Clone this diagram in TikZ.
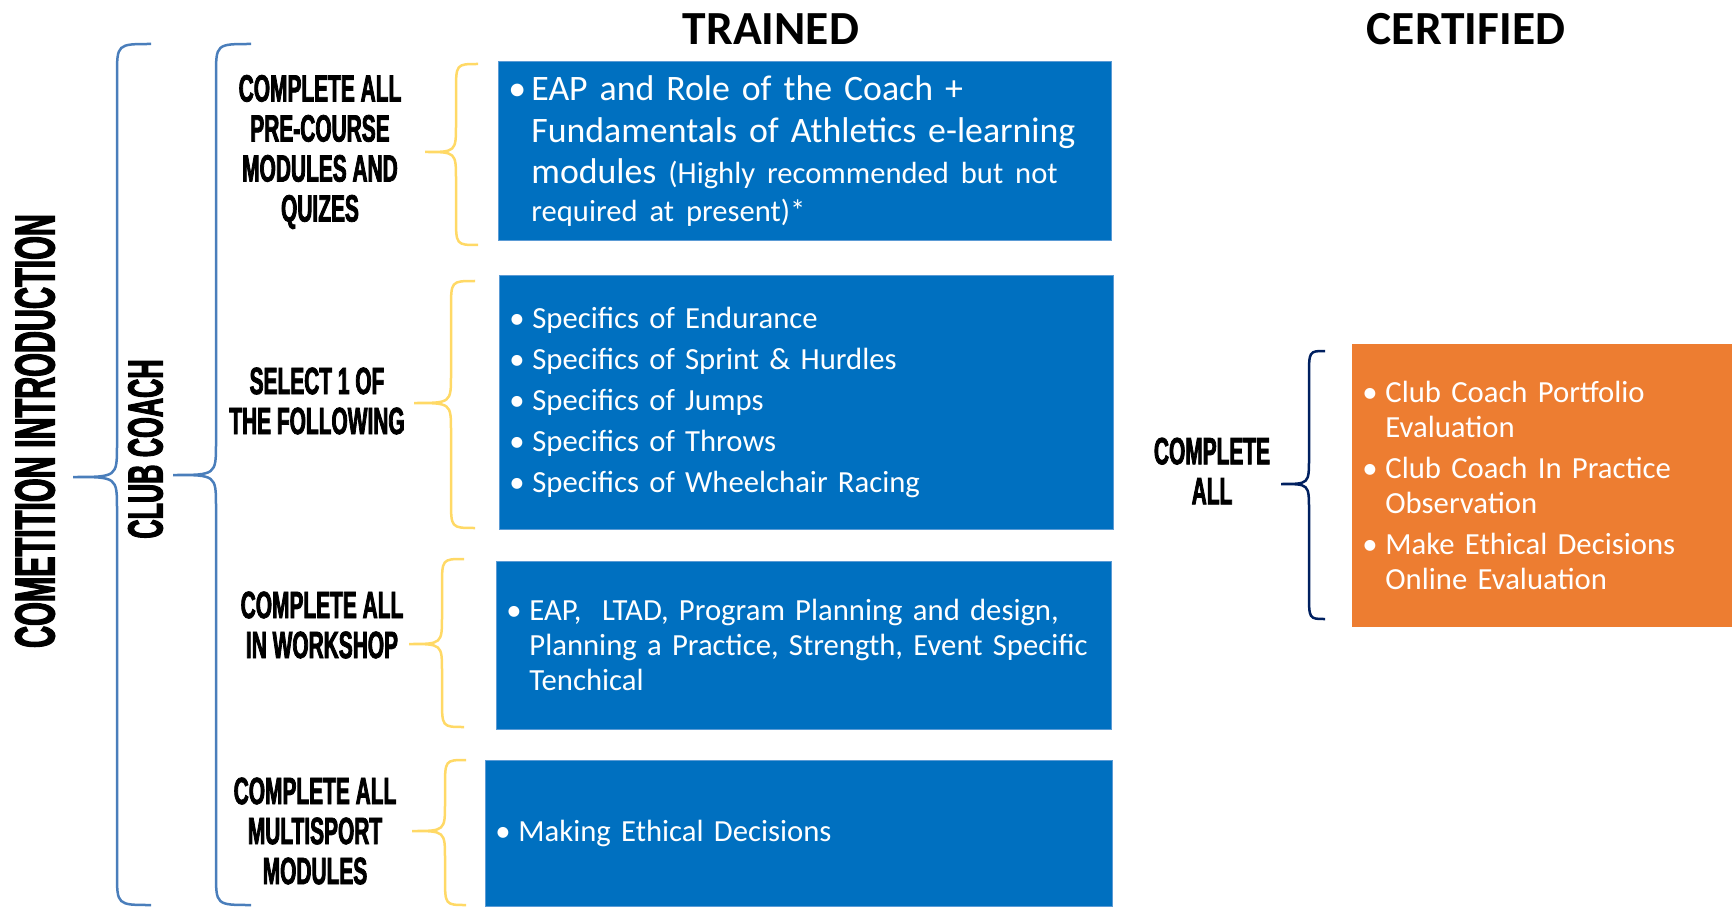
\documentclass[tikz,border=0pt]{standalone}
\usepackage{fontspec}
\usepackage{tikz}
\usetikzlibrary{positioning}
\setmainfont{Carlito}
\newfontfamily\capsfont[FakeStretch=0.55, FakeBold=2]{Liberation Sans Bold}
\newfontfamily\tallcapsfont[FakeStretch=0.54, FakeBold=2]{Liberation Sans Bold}
\definecolor{boxblue}{RGB}{0,112,192}
\definecolor{boxedge}{RGB}{91,155,213}
\definecolor{certorange}{RGB}{237,125,49}
\definecolor{bracegold}{RGB}{255,217,102}
\definecolor{bracesteel}{RGB}{74,126,187}
\definecolor{bracenavy}{RGB}{0,32,96}
\newlength{\bulw}\setlength{\bulw}{23pt}
\newcommand{\itm}[1]{\makebox[\bulw][l]{•}\mbox{#1}}
\newcommand{\cnt}[1]{\hspace*{\bulw}\mbox{#1}}
% brace: [radius]{style}{x tip}{y tip}{x spine}{x ends}{y top}{y bottom}
\newcommand{\brc}[8][28]{%
  \draw[#2] (#6,#7) .. controls (#5,#7) .. (#5,{#7+#1})
    -- (#5,{#4-#1}) .. controls (#5,#4) .. (#3,#4)
    .. controls (#5,#4) .. (#5,{#4+#1})
    -- (#5,{#8-#1}) .. controls (#5,#8) .. (#6,#8);}

\begin{document}
\begin{tikzpicture}[x=1pt, y=-1pt,
  box/.style={fill=boxblue, draw=boxedge, line width=0.8pt, anchor=north west,
              inner xsep=10pt, align=left, text=white,
              font=\fontsize{30.7}{35}\selectfont},
  certbox/.style={box, fill=certorange, draw=none},
  grp/.style={font=\capsfont\fontsize{38}{40}\selectfont, align=center},
  side/.style={rotate=90, font=\tallcapsfont\fontsize{56.5}{59}\selectfont},
  title/.style={font=\bfseries\fontsize{47.5}{50}\selectfont},
  gold/.style={draw=bracegold, line width=2.5pt},
  steel/.style={draw=bracesteel, line width=2.5pt},
  navy/.style={draw=bracenavy, line width=2.5pt}
]
\useasboundingbox (0,0) rectangle (1732,909);

\node[title] (trained) at (771,29) {TRAINED};
\node[title] (certified) at (1466,29) {CERTIFIED};

\node[side] (lcomp) at (35,431) {COMETITION INTRODUCTION};
\node[side, font=\tallcapsfont\fontsize{49.4}{52}\selectfont] (lclub) at (145.5,449) {CLUB COACH};

\node[grp] (lprecourse) at (320,152) {COMPLETE ALL\\PRE-COURSE\\MODULES AND\\QUIZES};
\node[grp] (lselect) at (317,401) {SELECT 1 OF\\THE FOLLOWING};
\node[grp] (lworkshop) at (322,625) {COMPLETE ALL\\IN WORKSHOP};
\node[grp] (lmulti) at (315,831) {COMPLETE ALL\\MULTISPORT\\MODULES};
\node[grp] (lcert) at (1212,471) {COMPLETE\\ALL};

\node[box, minimum width=613pt, minimum height=179pt, text width=593pt,
      font=\fontsize{35.8}{41.5}\selectfont] (precourse) at (498,61) {%
  \itm{EAP and Role of the Coach +}\\
  \cnt{Fundamentals of Athletics e-learning}\\
  \cnt{modules {\fontsize{30.6}{35}\selectfont(Highly recommended but not}}\\[-4pt]
  \cnt{\fontsize{30.6}{35}\selectfont required at present)*}};
\node[box, minimum width=614pt, minimum height=254pt, text width=594pt] (select) at (499,275) {%
  \itm{Specifics of Endurance}\\[6pt]
  \itm{Specifics of Sprint \& Hurdles}\\[6pt]
  \itm{Specifics of Jumps}\\[6pt]
  \itm{Specifics of Throws}\\[6pt]
  \itm{Specifics of Wheelchair Racing}};
\node[box, minimum width=615pt, minimum height=168pt, text width=595pt] (workshop) at (496,561) {%
  \itm{EAP,\ \ LTAD, Program Planning and design,}\\
  \cnt{Planning a Practice, Strength, Event Specific}\\
  \cnt{Tenchical}};
\node[box, minimum width=627pt, minimum height=146pt, text width=607pt] (multi) at (485,760) {%
  \itm{Making Ethical Decisions}};
\node[certbox, minimum width=380pt, minimum height=283pt, text width=360pt] (cert) at (1352,344) {%
  \itm{Club Coach Portfolio}\\
  \cnt{Evaluation}\\[6pt]
  \itm{Club Coach In Practice}\\
  \cnt{Observation}\\[6pt]
  \itm{Make Ethical Decisions}\\
  \cnt{Online Evaluation}};

% braces
\brc[32]{steel}{73}{477}{117}{151}{44}{905}
\brc[32]{steel}{173}{475}{216}{251}{44}{905}
\brc{gold}{425}{152}{456}{478}{64}{245}
\brc{gold}{414}{403}{451}{475}{281}{528}
\brc{gold}{409}{644}{442}{464}{559}{727}
\brc{gold}{412}{831}{445}{466}{760}{905}
\brc[26]{navy}{1281}{484}{1309}{1325}{351}{619}

\end{tikzpicture}
\end{document}
